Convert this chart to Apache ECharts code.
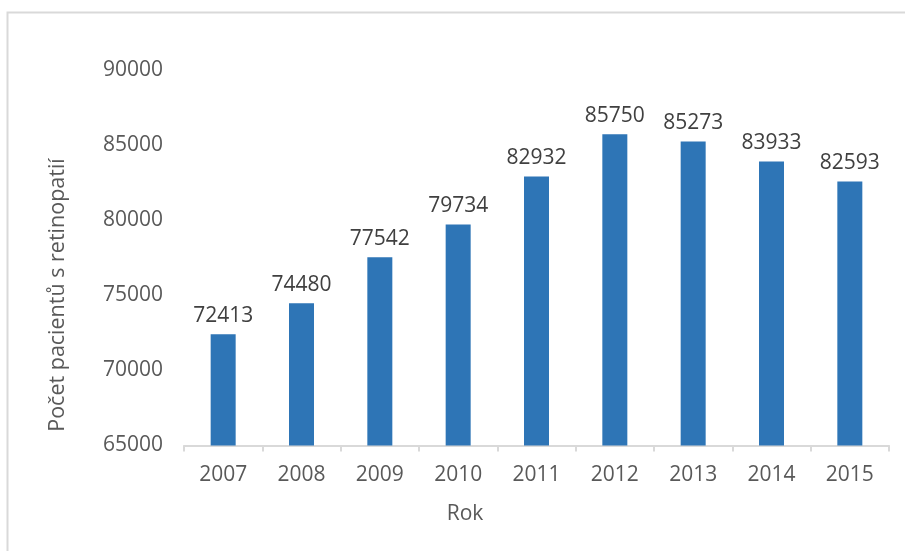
<!DOCTYPE html>
<html>
<head>
<meta charset="utf-8">
<title>Počet pacientů s retinopatií</title>
<script src="https://cdn.jsdelivr.net/npm/echarts@6/dist/echarts.min.js"></script>
<style>
  html, body { margin: 0; padding: 0; background: #ffffff; }
  #chart { width: 905px; height: 551px; }
</style>
</head>
<body>
<div id="chart"></div>
<script>
// Years and number of patients with retinopathy
const years = ['2007', '2008', '2009', '2010', '2011', '2012', '2013', '2014', '2015'];
const patients = [72413, 74480, 77542, 79734, 82932, 85750, 85273, 83933, 82593];
const yTicks = { min: 65000, max: 90000, interval: 5000 };
const xTitle = 'Rok';
const yTitle = 'Počet pacientů s retinopatií';

const font = '"Open Sans", "Noto Sans", sans-serif';

const chart = echarts.init(document.getElementById('chart'), null, { renderer: 'canvas' });

chart.setOption({
  backgroundColor: '#ffffff',
  animation: false,
  grid: { left: 184, right: 16, top: 70.5, bottom: 105.5, containLabel: false },
  graphic: [
    {
      type: 'rect',
      shape: { x: 7.5, y: 12.5, width: 920, height: 560 },
      style: { fill: 'none', stroke: '#d9d9d9', lineWidth: 2 },
      silent: true
    },
    {
      type: 'text',
      x: 58, y: 295,
      rotation: Math.PI / 2,
      style: {
        text: yTitle, fill: '#595959', font: '21.5px ' + font,
        align: 'center', verticalAlign: 'middle'
      }
    },
    {
      type: 'text',
      x: 465, y: 514,
      style: {
        text: xTitle, fill: '#595959', font: '21px ' + font,
        align: 'center', verticalAlign: 'middle'
      }
    }
  ],
  xAxis: {
    type: 'category',
    data: years,
    axisLine: { show: true, lineStyle: { color: '#d9d9d9', width: 2 } },
    axisTick: { show: true, alignWithLabel: false, length: 6, lineStyle: { color: '#d9d9d9', width: 2 } },
    axisLabel: { color: '#595959', fontSize: 21, fontFamily: font, margin: 19 },
    splitLine: { show: false }
  },
  yAxis: {
    type: 'value',
    min: yTicks.min,
    max: yTicks.max,
    interval: yTicks.interval,
    axisLine: { show: false },
    axisTick: { show: false },
    splitLine: { show: false },
    axisLabel: {
      color: '#595959', fontSize: 21, fontFamily: font, margin: 21,
      formatter: (v) => String(v)
    }
  },
  series: [{
    type: 'bar',
    data: patients,
    barWidth: 25,
    itemStyle: { color: '#2e75b6' },
    label: {
      show: true,
      position: 'top',
      distance: 8,
      color: '#404040',
      fontSize: 21,
      fontFamily: font
    }
  }]
});
</script>
</body>
</html>
